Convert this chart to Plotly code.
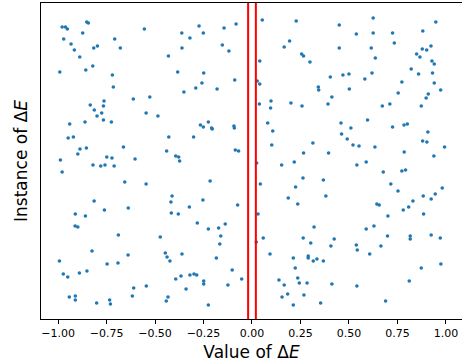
import plotly.graph_objects as go

# Values of ΔE (x) and the instance index (y)
delta_e = [
    -0.852, -0.844, -0.979, -0.962, -0.952, -0.555, -0.873, -0.971, -0.708, -0.933,
    -0.797, -0.816, -0.679, -0.916, -0.888, -0.821, -0.857, -0.991, -0.720, -0.715,
    -0.612, -0.763, -0.834, -0.766, -0.813, -0.775, -0.546,
    -0.362, -0.273, -0.251, -0.144, -0.082, -0.320, -0.361, -0.153, -0.119, -0.431,
    -0.383, -0.249, -0.258, -0.089, -0.290, -0.180, -0.351, -0.527,
    0.053, 0.228, 0.450, 0.538, 0.194, 0.166, 0.450, 0.256, 0.266, 0.040,
    0.299, 0.404, 0.469, 0.500, 0.027, 0.040, 0.342, 0.344, 0.502, 0.412,
    0.098, 0.201, 0.038, 0.392, 0.096, 0.258,
    0.625, 0.948, 0.625, 0.725, 0.881, 0.734, 0.615, 0.878, 0.901, 0.923,
    0.849, 0.866, 0.636, 0.928, 0.940, 0.821, 0.859, 0.931, 0.619, 0.582,
    0.773, 0.940, 0.973, 0.754, 0.909, 0.898, 0.672, 0.711, 0.873,
    -0.799, -0.766, -0.861, -0.725, -0.940, -0.948, -0.921, -0.887, -0.854, -0.663,
    -0.898, -0.988, -0.749, -0.722, -0.603, -0.820, -0.780, -0.758, -0.711, -0.979,
    -0.656, -0.546, -0.814, -0.761, -0.638, -0.911, -0.859,
    -0.485, -0.266, -0.251, -0.225, -0.208, -0.205, -0.093, -0.091, -0.429, -0.301,
    -0.440, -0.393, -0.378, -0.373, -0.086, -0.069, -0.216, -0.412, -0.418, -0.253,
    -0.323, -0.074, -0.416, -0.380,
    0.081, 0.107, 0.459, 0.510, 0.462, 0.491, 0.521, 0.552, 0.314, 0.102,
    0.266, 0.395, 0.024, 0.218, 0.153, 0.541, 0.263, 0.368, 0.043, 0.225,
    0.187, 0.381, 0.236, 0.031,
    0.596, 0.725, 0.784, 0.801, 0.907, 0.634, 0.880, 0.902, 0.993, 0.785,
    0.938, 0.589, 0.677, 0.773, 0.792, 0.716, 0.753, 0.981, 0.945, 0.883,
    0.924, 0.830, 0.644, 0.656, 0.808, 0.780, 0.701, 0.885,
    -0.912, -0.898, -0.689, -0.825, -0.993, -0.639, -0.691, -0.747, -0.973, -0.950,
    -0.890, -0.851, -0.610, -0.545, -0.942, -0.911, -0.911, -0.801, -0.734, -0.730,
    -0.617,
    -0.282, -0.225, -0.172, -0.138, -0.473, -0.161, -0.166, -0.447, -0.438, -0.423,
    -0.361, -0.184, -0.393, -0.366, -0.320, -0.299, -0.285, -0.249, -0.249, -0.102,
    -0.053, -0.124, -0.340, -0.433, -0.442, -0.225,
    0.320, 0.058, 0.022, 0.264, 0.303, 0.424, 0.407, 0.538, 0.543, 0.093,
    0.213, 0.290, 0.290, 0.335, 0.316, 0.368, 0.223, 0.236, 0.139, 0.166,
    0.244, 0.284, 0.412, 0.541, 0.184, 0.155, 0.268, 0.213, 0.354,
    0.589, 0.629, 0.699, 0.816, 0.816, 0.924, 0.971, 0.665, 0.607, 0.974,
    0.873, 0.811, 0.689,
]
instance = [
    283, 282, 278, 278, 276, 276, 272, 266, 266, 261,
    259, 257, 257, 255, 248, 239, 235, 233, 230, 218,
    206, 204, 200, 199, 195, 192, 192,
    272, 279, 272, 277, 281, 267, 257, 260, 254, 249,
    233, 232, 222, 225, 217, 216, 213, 208,
    285, 284, 280, 271, 264, 258, 257, 251, 249, 244,
    243, 228, 230, 231, 224, 221, 218, 215, 216, 208,
    204, 202, 201, 201, 197, 199,
    287, 283, 272, 272, 274, 262, 257, 256, 255, 259,
    251, 248, 247, 244, 241, 236, 231, 232, 232, 226,
    223, 222, 215, 212, 211, 207, 199, 201, 199,
    189, 185, 183, 183, 181, 167, 168, 156, 157, 158,
    151, 145, 148, 147, 146, 140, 139, 140, 139, 133,
    123, 121, 104, 95, 97, 91, 89,
    189, 180, 178, 183, 177, 176, 179, 177, 168, 168,
    154, 149, 148, 144, 155, 154, 124, 109, 103, 105,
    98, 100, 92, 91,
    182, 174, 182, 177, 171, 166, 160, 159, 162, 160,
    152, 152, 142, 143, 140, 140, 127, 125, 121, 118,
    107, 109, 101, 91,
    185, 178, 180, 181, 173, 158, 164, 163, 158, 153,
    149, 143, 133, 134, 135, 121, 114, 117, 111, 109,
    106, 104, 101, 100, 98, 95, 89, 91,
    79, 78, 70, 54, 44, 50, 42, 41, 31, 28,
    32, 34, 17, 19, 8, 9, 5, 2, 5, 1,
    9,
    82, 76, 77, 81, 68, 69, 61, 52, 48, 44,
    51, 47, 26, 29, 30, 31, 30, 24, 21, 35,
    26, 20, 16, 8, 4, 0,
    78, 67, 63, 67, 62, 66, 59, 60, 55, 51,
    47, 49, 47, 46, 44, 44, 37, 27, 25, 20,
    22, 22, 21, 19, 11, 8, 10, 0, 2,
    76, 79, 69, 69, 66, 70, 67, 59, 51, 41,
    37, 24, 4,
]

thresholds = [-0.02, 0.02]
x_ticks = [-1.0, -0.75, -0.5, -0.25, 0.0, 0.25, 0.5, 0.75, 1.0]
x_tick_labels = ["\u22121.00", "\u22120.75", "\u22120.50", "\u22120.25", "0.00",
                 "0.25", "0.50", "0.75", "1.00"]

fig = go.Figure()
fig.add_trace(go.Scatter(
    x=delta_e, y=instance, mode="markers",
    marker=dict(size=3.6, color="#1f77b4", line=dict(width=0)),
    showlegend=False, hoverinfo="skip",
))
for t in thresholds:
    fig.add_vline(x=t, line=dict(color="red", width=2))

fig.update_layout(
    width=462, height=364,
    margin=dict(l=41, r=0, t=3, b=45),
    paper_bgcolor="white", plot_bgcolor="white",
    font=dict(family="DejaVu Sans", color="black"),
    xaxis=dict(
        range=[-1.088, 1.083], tickvals=x_ticks, ticktext=x_tick_labels,
        showgrid=False, zeroline=False, showline=True, linecolor="black",
        linewidth=1, mirror=True, ticks="outside", ticklen=4, tickwidth=1,
        tickcolor="black", tickfont=dict(size=11),
        title=dict(text="Value of \u0394<i>E</i>", font=dict(size=17), standoff=6),
    ),
    yaxis=dict(
        range=[-14, 302], showticklabels=False, ticks="",
        showgrid=False, zeroline=False, showline=True, linecolor="black",
        linewidth=1,
        title=dict(text="Instance of \u0394<i>E</i>", font=dict(size=17), standoff=8),
    ),
)

fig.write_html("out.html", config={"displayModeBar": False},
               post_script="document.body.style.margin='0';")
